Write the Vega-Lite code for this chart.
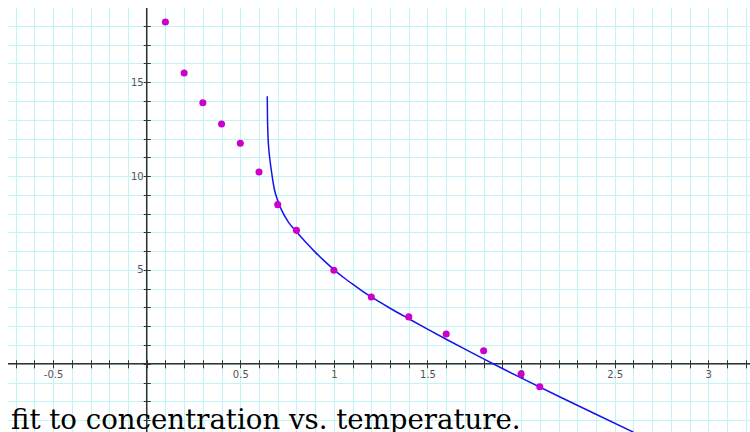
{
  "$schema": "https://vega.github.io/schema/vega-lite/v6.json",
  "width": 742,
  "height": 424,
  "autosize": "none",
  "padding": {"left": 8, "top": 8, "right": 0, "bottom": 0},
  "background": "white",
  "title": {
    "text": "fit to concentration vs. temperature.",
    "orient": "bottom",
    "anchor": "start",
    "frame": "group",
    "font": "DejaVu Serif",
    "fontSize": 27.6,
    "fontWeight": "normal",
    "color": "black",
    "baseline": "alphabetic",
    "offset": -4,
    "dx": 3
  },
  "datasets": {
    "points": [
      {"temperature": 0.1, "concentration": 18.21},
      {"temperature": 0.2, "concentration": 15.49},
      {"temperature": 0.3, "concentration": 13.91},
      {"temperature": 0.4, "concentration": 12.78},
      {"temperature": 0.5, "concentration": 11.75},
      {"temperature": 0.6, "concentration": 10.22},
      {"temperature": 0.7, "concentration": 8.48},
      {"temperature": 0.8, "concentration": 7.11},
      {"temperature": 1.0, "concentration": 4.98},
      {"temperature": 1.2, "concentration": 3.56},
      {"temperature": 1.4, "concentration": 2.5},
      {"temperature": 1.6, "concentration": 1.59},
      {"temperature": 1.8, "concentration": 0.7},
      {"temperature": 2.0, "concentration": -0.54},
      {"temperature": 2.1, "concentration": -1.22}
    ],
    "fit": [
      {"temperature": 0.644, "concentration": 14.25},
      {"temperature": 0.645, "concentration": 13.3},
      {"temperature": 0.647, "concentration": 12.4},
      {"temperature": 0.651, "concentration": 11.6},
      {"temperature": 0.658, "concentration": 10.9},
      {"temperature": 0.668, "concentration": 10.15},
      {"temperature": 0.682, "concentration": 9.3},
      {"temperature": 0.7, "concentration": 8.7},
      {"temperature": 0.72, "concentration": 8.2},
      {"temperature": 0.757, "concentration": 7.55},
      {"temperature": 0.8, "concentration": 7.03},
      {"temperature": 0.85, "concentration": 6.47},
      {"temperature": 0.9, "concentration": 5.95},
      {"temperature": 0.95, "concentration": 5.47},
      {"temperature": 1.0, "concentration": 5.02},
      {"temperature": 1.05, "concentration": 4.61},
      {"temperature": 1.1, "concentration": 4.24},
      {"temperature": 1.15, "concentration": 3.89},
      {"temperature": 1.2, "concentration": 3.56},
      {"temperature": 1.3, "concentration": 2.96},
      {"temperature": 1.4, "concentration": 2.4},
      {"temperature": 1.5, "concentration": 1.85},
      {"temperature": 1.6, "concentration": 1.31},
      {"temperature": 1.7, "concentration": 0.78},
      {"temperature": 1.8, "concentration": 0.26},
      {"temperature": 1.9, "concentration": -0.25},
      {"temperature": 2.0, "concentration": -0.75},
      {"temperature": 2.2, "concentration": -1.73},
      {"temperature": 2.4, "concentration": -2.69},
      {"temperature": 2.6, "concentration": -3.64}
    ],
    "axes": [{"origin": 0}]
  },
  "config": {
    "view": {"stroke": null}
  },
  "layer": [
    {
      "data": {"name": "points"},
      "mark": {"type": "point", "opacity": 0},
      "encoding": {
        "x": {
          "field": "temperature",
          "type": "quantitative",
          "scale": {"domain": [-0.741, 3.223], "zero": false, "nice": false},
          "axis": {
            "title": null,
            "values": [-0.7, -0.6, -0.5, -0.4, -0.3, -0.2, -0.1, 0, 0.1, 0.2, 0.3, 0.4, 0.5, 0.6, 0.7, 0.8, 0.9, 1, 1.1, 1.2, 1.3, 1.4, 1.5, 1.6, 1.7, 1.8, 1.9, 2, 2.1, 2.2, 2.3, 2.4, 2.5, 2.6, 2.7, 2.8, 2.9, 3, 3.1, 3.2],
            "tickCount": 200,
            "offset": -72.2,
            "tickSize": 8,
            "tickColor": "#333333",
            "tickWidth": 1,
            "domain": false,
            "grid": true,
            "gridColor": "#bff5f5",
            "gridWidth": 1,
            "labelExpr": "abs(round(datum.value*10)) % 5 == 0 && round(datum.value*10) != 0 ? (datum.value < 0 ? '-' : '') + format(abs(datum.value), '~g') : ''",
            "labelOverlap": false,
            "labelFlush": false,
            "labelBound": false,
            "labelFont": "DejaVu Sans",
            "labelFontSize": 10,
            "labelColor": "#555555",
            "labelPadding": 2,
            "zindex": 0
          }
        },
        "y": {
          "field": "concentration",
          "type": "quantitative",
          "scale": {"domain": [-3.633, 18.956], "zero": false, "nice": false},
          "axis": {
            "title": null,
            "values": [-3, -2, -1, 0, 1, 2, 3, 4, 5, 6, 7, 8, 9, 10, 11, 12, 13, 14, 15, 16, 17, 18],
            "tickCount": 200,
            "offset": -142.2,
            "tickSize": 7,
            "tickColor": "#333333",
            "tickWidth": 1,
            "domain": false,
            "grid": true,
            "gridColor": "#bff5f5",
            "gridWidth": 1,
            "labelExpr": "datum.value % 5 == 0 && datum.value > 0 ? format(datum.value, 'd') : ''",
            "labelOverlap": false,
            "labelFlush": false,
            "labelBound": false,
            "labelFont": "DejaVu Sans",
            "labelFontSize": 10,
            "labelColor": "#555555",
            "labelPadding": 0,
            "zindex": 0
          }
        }
      }
    },
    {
      "data": {"name": "axes"},
      "mark": {"type": "rule", "color": "#333333", "strokeWidth": 1.5},
      "encoding": {
        "y": {"field": "origin", "type": "quantitative", "scale": {"domain": [-3.633, 18.956], "zero": false, "nice": false}}
      }
    },
    {
      "data": {"name": "axes"},
      "mark": {"type": "rule", "color": "#333333", "strokeWidth": 1.5},
      "encoding": {
        "x": {"field": "origin", "type": "quantitative", "scale": {"domain": [-0.741, 3.223], "zero": false, "nice": false}}
      }
    },
    {
      "data": {"name": "fit"},
      "mark": {"type": "line", "color": "#1414f0", "strokeWidth": 1.5, "clip": true, "interpolate": "monotone"},
      "encoding": {
        "x": {"field": "temperature", "type": "quantitative", "scale": {"domain": [-0.741, 3.223], "zero": false, "nice": false}},
        "y": {"field": "concentration", "type": "quantitative", "scale": {"domain": [-3.633, 18.956], "zero": false, "nice": false}}
      }
    },
    {
      "data": {"name": "points"},
      "mark": {"type": "circle", "color": "#cc00cc", "size": 50, "opacity": 1, "clip": true},
      "encoding": {
        "x": {"field": "temperature", "type": "quantitative", "scale": {"domain": [-0.741, 3.223], "zero": false, "nice": false}},
        "y": {"field": "concentration", "type": "quantitative", "scale": {"domain": [-3.633, 18.956], "zero": false, "nice": false}}
      }
    }
  ]
}
